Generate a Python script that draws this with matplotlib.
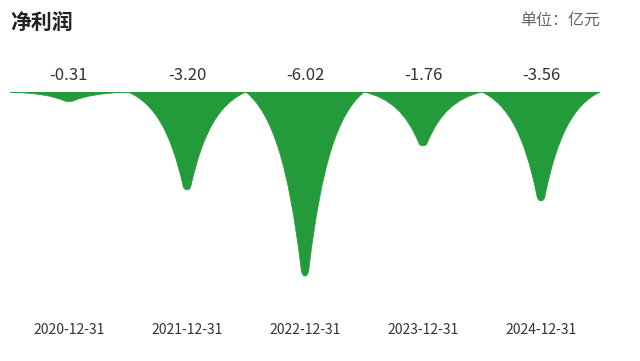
import matplotlib
matplotlib.use("Agg")
import matplotlib.pyplot as plt
from matplotlib.path import Path
from matplotlib.patches import PathPatch

plt.rcParams['font.family'] = ['Noto Sans CJK SC', 'DejaVu Sans']

dates = ["2020-12-31", "2021-12-31", "2022-12-31", "2023-12-31", "2024-12-31"]
profit = [-0.31, -3.20, -6.02, -1.76, -3.56]
value_labels = ["-0.31", "-3.20", "-6.02", "-1.76", "-3.56"]

green = '#239b3b'

fig = plt.figure(figsize=(6.4, 3.61), dpi=100)
ax = fig.add_axes([10 / 640, 1 - 306 / 361, 590 / 640, 214 / 361])


def spike(xc, v, w=0.5):
    # drip shaped mark from the baseline down to the value, rounded tip
    left = [(-1, 0), (-0.55, 0.12), (-0.28, 0.4), (-0.07, 0.95)]
    tip = [(-0.06, 1.017), (0.06, 1.017), (0.07, 0.95)]
    right = [(0.28, 0.4), (0.55, 0.12), (1, 0)]
    pts = left + tip + right + [(-1, 0)]
    verts = [(xc + px * w, py * v) for px, py in pts]
    codes = [Path.MOVETO] + [Path.CURVE4] * 9 + [Path.CLOSEPOLY]
    return Path(verts, codes)


for i, v in enumerate(profit):
    ax.add_patch(PathPatch(spike(i, v), facecolor=green, edgecolor=green, lw=0.5))
    ax.text(i, 0.55, value_labels[i], ha='center', va='center', fontsize=12, color='#333333')

ax.axhline(0, color=green, lw=1.2, alpha=0.8)

ax.set_xlim(-0.5, len(dates) - 0.5)
ax.set_ylim(-7, 0)
ax.set_xticks(range(len(dates)))
ax.set_xticklabels(dates, fontsize=10, color='#333333')
ax.tick_params(axis='x', length=0, pad=12)
ax.set_yticks([])
for s in ax.spines.values():
    s.set_visible(False)

fig.text(10 / 640, 1 - 22 / 361, "净利润", fontsize=15, fontweight='bold', color='#222222', va='center', ha='left')
fig.text(600 / 640, 1 - 20 / 361, "单位：亿元", fontsize=11.5, color='#666666', va='center', ha='right')

plt.savefig("out.png", dpi=100)
